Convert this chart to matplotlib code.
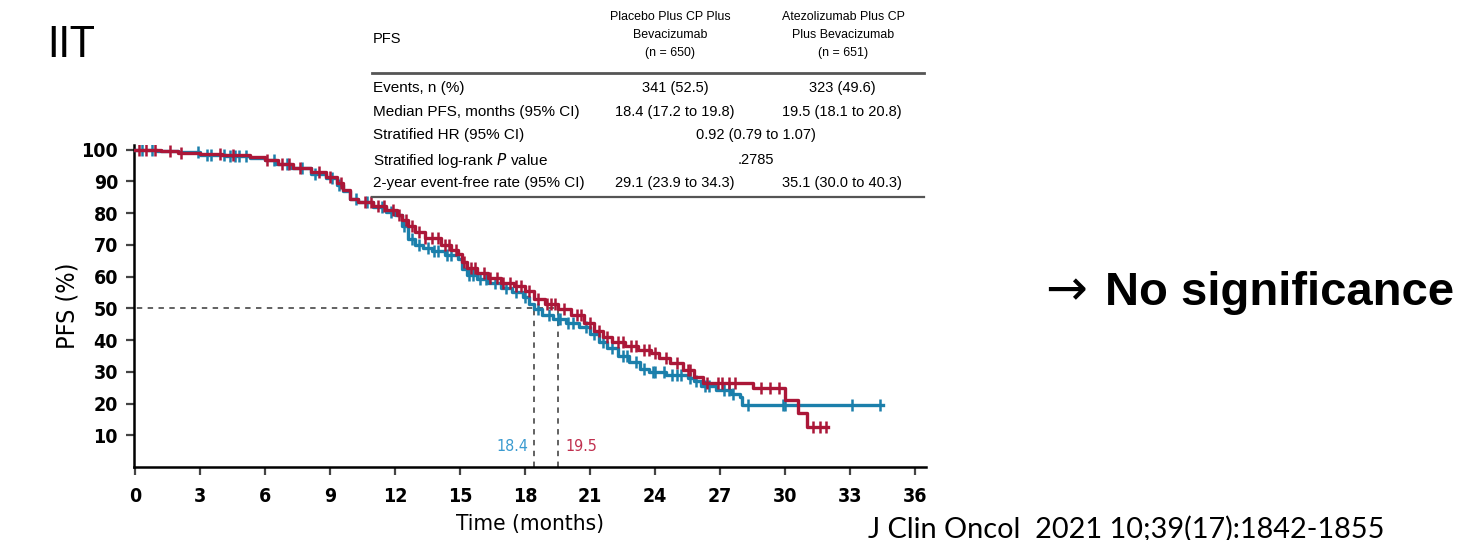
import numpy as np
import matplotlib
matplotlib.use('Agg')
import matplotlib.pyplot as plt
from matplotlib.lines import Line2D

# Kaplan-Meier step points (time in months, PFS %)
placebo_t = [0, 1.0, 2.0, 3.0, 4.2, 5.3, 6.0, 6.5, 7.2, 8.1, 8.8, 9.3, 9.6, 9.9, 10.3,
             11.0, 11.6, 12.0, 12.3, 12.6, 12.9, 13.3, 13.7, 14.3, 14.9, 15.1, 15.3,
             15.8, 16.3, 16.9, 17.4, 17.9, 18.2, 18.4, 18.8, 19.3, 19.9, 20.5, 21.0,
             21.4, 21.8, 22.3, 22.8, 23.3, 23.7, 24.5, 25.5, 25.8, 26.1, 26.8, 27.5,
             27.9, 28.0, 34.5]
placebo_s = [100, 99.7, 99.2, 98.5, 98.0, 97.5, 96.8, 95.5, 94.3, 92.5, 91.0, 89.0, 87.0,
             84.5, 83.5, 82.0, 80.5, 79.5, 76.0, 72.0, 70.0, 69.0, 68.0, 66.8, 65.5,
             62.5, 60.5, 59.2, 58.0, 56.3, 55.2, 53.5, 51.5, 49.8, 48.0, 46.8, 45.5,
             44.0, 42.0, 39.5, 37.5, 35.0, 33.0, 31.0, 29.8, 29.0, 28.0, 27.2, 25.5,
             24.2, 23.0, 22.0, 19.6, 19.6]
placebo_cens = [0.3, 0.8, 2.9, 3.3, 3.5, 4.1, 4.4, 4.6, 4.8, 5.1, 6.4, 7.0, 7.7, 8.3,
                9.1, 9.4, 10.2, 10.7, 11.4, 11.8, 12.4, 12.8, 13.1, 13.5, 13.8, 14.0,
                14.4, 14.6, 15.4, 15.6, 15.9, 16.2, 16.6, 17.1, 17.6, 18.0, 18.6, 19.1,
                19.5, 19.6, 20.0, 20.2, 20.8, 21.2, 21.6, 22.0, 22.5, 22.7, 23.1, 23.5,
                23.9, 24.0, 24.4, 24.8, 25.0, 25.2, 25.6, 25.9, 26.3, 26.5, 27.2, 27.4,
                27.6, 28.3, 29.9, 30.0, 33.1, 34.4]

atezo_t = [0, 1.2, 2.0, 3.0, 4.0, 5.3, 6.0, 6.6, 7.3, 8.1, 8.8, 9.3, 9.6, 9.9, 10.3,
           11.0, 11.6, 12.1, 12.3, 12.6, 12.9, 13.4, 14.1, 14.6, 14.9, 15.1, 15.3,
           15.8, 16.3, 16.9, 17.5, 18.0, 18.4, 18.9, 19.5, 20.1, 20.7, 21.2, 21.6,
           22.0, 22.6, 23.2, 23.8, 24.2, 24.7, 25.3, 25.8, 26.2, 28.5, 30.0, 30.6,
           31.0, 32.0]
atezo_s = [100, 99.6, 99.1, 98.6, 98.2, 97.6, 96.8, 95.6, 94.3, 93.0, 91.5, 89.5, 87.3,
           84.5, 83.5, 82.2, 81.0, 79.5, 78.0, 76.0, 74.0, 72.3, 70.0, 68.5, 67.0,
           64.5, 62.8, 61.0, 59.7, 58.0, 57.0, 55.5, 53.0, 51.5, 49.9, 48.0, 45.5,
           43.0, 41.0, 39.5, 38.0, 36.8, 35.8, 34.5, 32.8, 30.5, 28.5, 26.6, 24.9,
           21.2, 17.0, 12.6, 12.6]
atezo_cens = [0.2, 0.5, 0.9, 1.6, 2.1, 3.9, 4.5, 6.1, 6.8, 7.1, 7.6, 8.5, 9.0, 9.5,
              10.6, 10.9, 11.2, 11.5, 11.9, 12.2, 12.5, 12.8, 13.1, 13.4, 13.7, 14.0,
              14.3, 14.5, 14.8, 15.2, 15.5, 15.7, 16.1, 16.4, 16.7, 17.0, 17.3, 17.6,
              17.8, 18.2, 18.6, 19.0, 19.2, 19.4, 19.8, 20.4, 20.6, 21.0, 21.4, 21.8,
              22.3, 22.5, 22.9, 23.1, 23.5, 23.7, 24.0, 24.5, 25.0, 25.5, 25.6, 26.4,
              26.9, 27.1, 27.4, 27.7, 28.9, 29.3, 29.7, 31.3, 31.6, 31.9]

medians = [18.4, 19.5]
x_ticks = list(range(0, 37, 3))
y_ticks = list(range(10, 101, 10))

blue = '#1b7fab'
red = '#ab1738'

table_rows = ['Events, n (%)', 'Median PFS, months (95% CI)', 'Stratified HR (95% CI)',
              'Stratified log-rank $\\it{P}$ value', '2-year event-free rate (95% CI)']
col1_vals = ['341 (52.5)', '18.4 (17.2 to 19.8)', '', '', '29.1 (23.9 to 34.3)']
col2_vals = ['323 (49.6)', '19.5 (18.1 to 20.8)', '', '', '35.1 (30.0 to 40.3)']
span_vals = ['', '', '0.92 (0.79 to 1.07)', '.2785', '']
col1_head = ['Placebo Plus CP Plus', 'Bevacizumab', '(n = 650)']
col2_head = ['Atezolizumab Plus CP', 'Plus Bevacizumab', '(n = 651)']


def surv_at(ts, ss, t):
    i = np.searchsorted(ts, t, side='right') - 1
    return np.array(ss)[i]


W, H = 1472, 540
fig = plt.figure(figsize=(W / 100, H / 100), dpi=100)
ax = fig.add_axes([134 / W, 1 - 467 / H, (926 - 134) / W, (467 - 145) / H])

cond = dict(family='DejaVu Sans', stretch='condensed')

# median guide lines
ax.plot([-0.4, medians[1]], [50, 50], color='#555555', lw=1.3, ls=(0, (3, 3)),
        zorder=1, clip_on=False)
for m in medians:
    ax.plot([m, m], [0, 50], color='#555555', lw=1.3, ls=(0, (3, 3)), zorder=1)

# curves
for ts, ss, cens, col in [(placebo_t, placebo_s, placebo_cens, blue),
                          (atezo_t, atezo_s, atezo_cens, red)]:
    ax.step(ts, ss, where='post', color=col, lw=2.4, zorder=3)
    ax.plot(cens, surv_at(ts, ss, cens), ls='none', marker='|', ms=9, mew=1.8,
            color=col, zorder=3)

ax.text(medians[0] - 0.25, 6.5, '18.4', color='#3b9bd0', ha='right', va='center',
        fontsize=11.5, **cond)
ax.text(medians[1] + 0.35, 6.5, '19.5', color='#c0304f', ha='left', va='center',
        fontsize=11.5, **cond)

ax.set_xlim(-0.05, 36.5)
ax.set_ylim(0, 101.5)
ax.set_xticks(x_ticks)
ax.set_yticks(y_ticks)
for s in ['top', 'right']:
    ax.spines[s].set_visible(False)
for s in ['left', 'bottom']:
    ax.spines[s].set_linewidth(1.8)
ax.tick_params(axis='both', width=1.6, length=5.5, direction='out', color='#444444')
ax.tick_params(axis='y', pad=6)
ax.tick_params(axis='x', pad=9)
for lab in ax.get_xticklabels() + ax.get_yticklabels():
    lab.set_fontfamily('DejaVu Sans')
    lab.set_fontstretch('condensed')
    lab.set_fontweight('bold')
    lab.set_fontsize(14)
ax.set_xlabel('Time (months)', fontsize=16.2, labelpad=6, **cond)
ax.set_ylabel('PFS (%)', fontsize=18, labelpad=1, **cond)

# results table
def fx(px):
    return px / W


def fy(py):
    return 1 - py / H


lib = ['Liberation Sans', 'DejaVu Sans']
fig.text(fx(373), fy(39), 'PFS', ha='left', va='center', fontsize=10.5, family=lib)
for i, line in enumerate(col1_head):
    fig.text(fx(670), fy(17 + 18 * i), line, ha='center', va='center', fontsize=8.9,
             family=lib)
for i, line in enumerate(col2_head):
    fig.text(fx(843), fy(17 + 18 * i), line, ha='center', va='center', fontsize=8.9,
             family=lib)
row_y = [88, 112, 135, 160, 183]
for y, r, a, b, c in zip(row_y, table_rows, col1_vals, col2_vals, span_vals):
    fig.text(fx(373), fy(y), r, ha='left', va='center', fontsize=11, family=lib)
    if a:
        fig.text(fx(675), fy(y), a, ha='center', va='center', fontsize=10.5, family=lib)
    if b:
        fig.text(fx(842), fy(y), b, ha='center', va='center', fontsize=10.5, family=lib)
    if c:
        fig.text(fx(756), fy(y), c, ha='center', va='center', fontsize=10.5, family=lib)
fig.add_artist(Line2D([fx(372), fx(924)], [fy(73), fy(73)], color='#555555', lw=2))
fig.add_artist(Line2D([fx(372), fx(924)], [fy(197), fy(197)], color='#555555', lw=1.6))

# slide annotations
fig.text(fx(47), fy(45), 'IIT', fontsize=30, family=['Lato', 'DejaVu Sans'], va='center')
fig.text(fx(1045), fy(305), '\u2192', fontsize=36, family=['DejaVu Sans'],
         va='baseline')
fig.text(fx(1105), fy(305), 'No significance', fontsize=34, fontweight='bold',
         family=lib, va='baseline')
fig.text(fx(868), fy(529), 'J Clin Oncol  2021 10;39(17):1842-1855', fontsize=20.8,
         family=['Lato', 'DejaVu Sans'], va='center')

fig.savefig('out.png', dpi=100)
